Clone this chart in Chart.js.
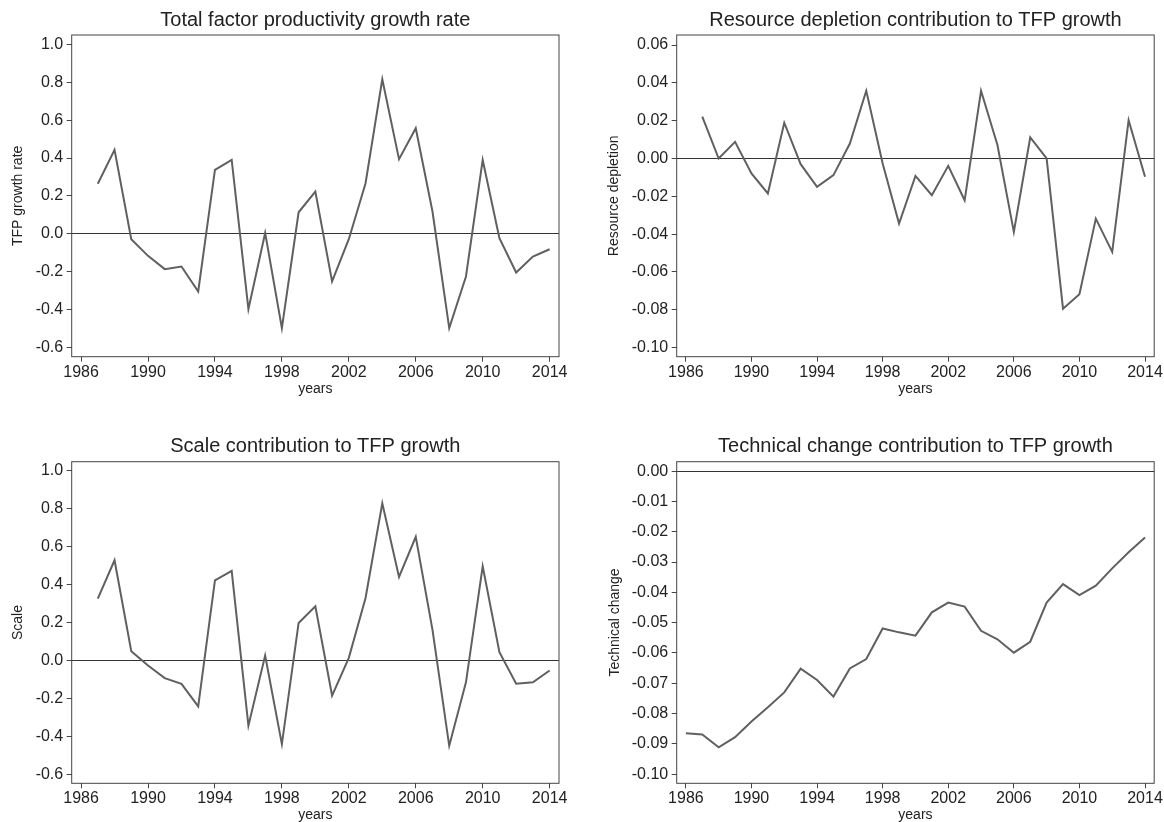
<!DOCTYPE html>
<html>
<head>
<meta charset="utf-8">
<script src="https://cdn.jsdelivr.net/npm/chart.js@4.4.1/dist/chart.umd.min.js"></script>
<style>
html, body { margin: 0; padding: 0; background: #fff; overflow: hidden; }
canvas { position: absolute; }
</style>
</head>
<body>
<canvas id="c1" width="582" height="411" style="left:0;top:0"></canvas>
<canvas id="c2" width="582" height="411" style="left:582px;top:0"></canvas>
<canvas id="c3" width="582" height="411" style="left:0;top:411px"></canvas>
<canvas id="c4" width="582" height="411" style="left:582px;top:411px"></canvas>
<script>
// years on the x axis
var yearsA = [1987, 1988, 1989, 1990, 1991, 1992, 1993, 1994, 1995, 1996, 1997, 1998, 1999, 2000,
              2001, 2002, 2003, 2004, 2005, 2006, 2007, 2008, 2009, 2010, 2011, 2012, 2013, 2014];
var yearsB = [1986, 1987, 1988, 1989, 1990, 1991, 1992, 1993, 1994, 1995, 1996, 1997, 1998, 1999, 2000,
              2001, 2002, 2003, 2004, 2005, 2006, 2007, 2008, 2009, 2010, 2011, 2012, 2013, 2014];

// series
var tfpGrowth = [0.264, 0.443, -0.028, -0.116, -0.186, -0.172, -0.304, 0.337, 0.390, -0.397, 0.005, -0.497, 0.114, 0.223,
                 -0.251, -0.028, 0.267, 0.815, 0.394, 0.557, 0.118, -0.497, -0.225, 0.390, -0.023, -0.204, -0.120, -0.081];
var resourceDepletion = [0.0221, 0.0000, 0.0088, -0.0079, -0.0185, 0.0189, -0.0030, -0.0150, -0.0088, 0.0079, 0.0358, -0.0026,
                         -0.0344, -0.0092, -0.0194, -0.0039, -0.0221, 0.0358, 0.0071, -0.0388, 0.0111, 0.0000, -0.0794, -0.0718,
                         -0.0318, -0.0494, 0.0203, -0.0097];
var scaleContrib = [0.326, 0.529, 0.049, -0.026, -0.093, -0.123, -0.242, 0.423, 0.473, -0.344, 0.026, -0.441, 0.198, 0.286,
                    -0.185, 0.014, 0.330, 0.829, 0.441, 0.653, 0.162, -0.450, -0.115, 0.497, 0.044, -0.123, -0.115, -0.053];
var technicalChange = [-0.0865, -0.0869, -0.0911, -0.0878, -0.0826, -0.0779, -0.0730, -0.0652, -0.0689, -0.0744, -0.0651, -0.0620, -0.0519,
                       -0.0532, -0.0543, -0.0466, -0.0434, -0.0447, -0.0527, -0.0555, -0.0599, -0.0563, -0.0434, -0.0373, -0.0409,
                       -0.0378, -0.0321, -0.0268, -0.0219];

// tick labels
var xTicks = [1986, 1990, 1994, 1998, 2002, 2006, 2010, 2014];
var yTicksGrowth = [-0.6, -0.4, -0.2, 0, 0.2, 0.4, 0.6, 0.8, 1.0];
var yTicksDepletion = [-0.10, -0.08, -0.06, -0.04, -0.02, 0, 0.02, 0.04, 0.06];
var yTicksTechnical = [-0.10, -0.09, -0.08, -0.07, -0.06, -0.05, -0.04, -0.03, -0.02, -0.01, 0];

var FONT = '"Liberation Sans", Arial, Helvetica, sans-serif';
var TEXT = '#222';

var framePlugin = {
    id: 'frame',
    afterDraw: function (chart) {
        var a = chart.chartArea, ctx = chart.ctx;
        ctx.save();
        ctx.strokeStyle = '#444';
        ctx.lineWidth = 1;
        ctx.strokeRect(a.left, a.top, a.right - a.left, a.bottom - a.top);
        ctx.restore();
    }
};

function makeChart(id, c) {
    var W = 582, H = 411;
    var points = c.years.map(function (y, i) { return { x: y, y: c.values[i] }; });
    return new Chart(document.getElementById(id), {
        type: 'line',
        data: {
            datasets: [{
                data: points,
                borderColor: '#606060',
                borderWidth: 2,
                pointRadius: 0,
                tension: 0,
                fill: false
            }]
        },
        plugins: [framePlugin],
        options: {
            responsive: false,
            animation: false,
            events: [],
            layout: { padding: { left: 0, right: W - c.area.right, top: 0, bottom: 0 } },
            plugins: {
                legend: { display: false },
                tooltip: { enabled: false },
                title: {
                    display: true,
                    text: c.title,
                    fullSize: false,
                    color: TEXT,
                    font: { family: FONT, size: 20, weight: 'normal', lineHeight: 1.2 },
                    padding: { top: c.titleTop, bottom: c.area.top - c.titleTop - 24 }
                }
            },
            scales: {
                x: {
                    type: 'linear',
                    min: 1985.44,
                    max: 2014.56,
                    afterBuildTicks: function (s) { s.ticks = xTicks.map(function (v) { return { value: v }; }); },
                    afterFit: function (s) { s.height = H - c.area.bottom; },
                    grid: { drawOnChartArea: false, tickLength: 5, tickColor: '#444' },
                    border: { display: false },
                    ticks: {
                        padding: 1,
                        color: TEXT,
                        maxRotation: 0,
                        autoSkip: false,
                        font: { family: FONT, size: 16 },
                        callback: function (v) { return String(v); }
                    },
                    title: {
                        display: true,
                        text: 'years',
                        color: TEXT,
                        font: { family: FONT, size: 14, lineHeight: 1 },
                        padding: { top: 0, bottom: c.xTitleBottom }
                    }
                },
                y: {
                    min: c.yMin,
                    max: c.yMax,
                    afterBuildTicks: function (s) { s.ticks = c.yTicks.map(function (v) { return { value: v }; }); },
                    afterFit: function (s) { s.width = c.area.left; },
                    grid: {
                        tickLength: 5,
                        tickColor: '#444',
                        lineWidth: 1,
                        color: function (ctx) {
                            return ctx.tick && ctx.tick.value === 0 ? '#333' : 'rgba(0,0,0,0)';
                        }
                    },
                    border: { display: false },
                    ticks: {
                        padding: 3.5,
                        color: TEXT,
                        autoSkip: false,
                        font: { family: FONT, size: 16 },
                        callback: function (v) { return Number(v).toFixed(c.decimals); }
                    },
                    title: {
                        display: true,
                        text: c.ylabel,
                        color: TEXT,
                        font: { family: FONT, size: 14, lineHeight: 1 },
                        padding: { top: c.yTitleTop, bottom: 0 }
                    }
                }
            }
        }
    });
}

makeChart('c1', {
    title: 'Total factor productivity growth rate', ylabel: 'TFP growth rate',
    years: yearsA, values: tfpGrowth, yMin: -0.648, yMax: 1.049, yTicks: yTicksGrowth, decimals: 1,
    area: { left: 71.7, right: 559, top: 35, bottom: 356.7 }, titleTop: 8, xTitleBottom: 15, yTitleTop: 11.3
});
makeChart('c2', {
    title: 'Resource depletion contribution to TFP growth', ylabel: 'Resource depletion',
    years: yearsA, values: resourceDepletion, yMin: -0.1048, yMax: 0.0653, yTicks: yTicksDepletion, decimals: 2,
    area: { left: 94.7, right: 572.3, top: 35, bottom: 356.7 }, titleTop: 8, xTitleBottom: 15, yTitleTop: 25
});
makeChart('c3', {
    title: 'Scale contribution to TFP growth', ylabel: 'Scale',
    years: yearsA, values: scaleContrib, yMin: -0.648, yMax: 1.049, yTicks: yTicksGrowth, decimals: 1,
    area: { left: 71.7, right: 559, top: 50.7, bottom: 372.3 }, titleTop: 23.7, xTitleBottom: 0, yTitleTop: 11.3
});
makeChart('c4', {
    title: 'Technical change contribution to TFP growth', ylabel: 'Technical change',
    years: yearsB, values: technicalChange, yMin: -0.103, yMax: 0.0031, yTicks: yTicksTechnical, decimals: 2,
    area: { left: 94.7, right: 572.3, top: 50.7, bottom: 372.3 }, titleTop: 23.7, xTitleBottom: 0, yTitleTop: 26
});
</script>
</body>
</html>
